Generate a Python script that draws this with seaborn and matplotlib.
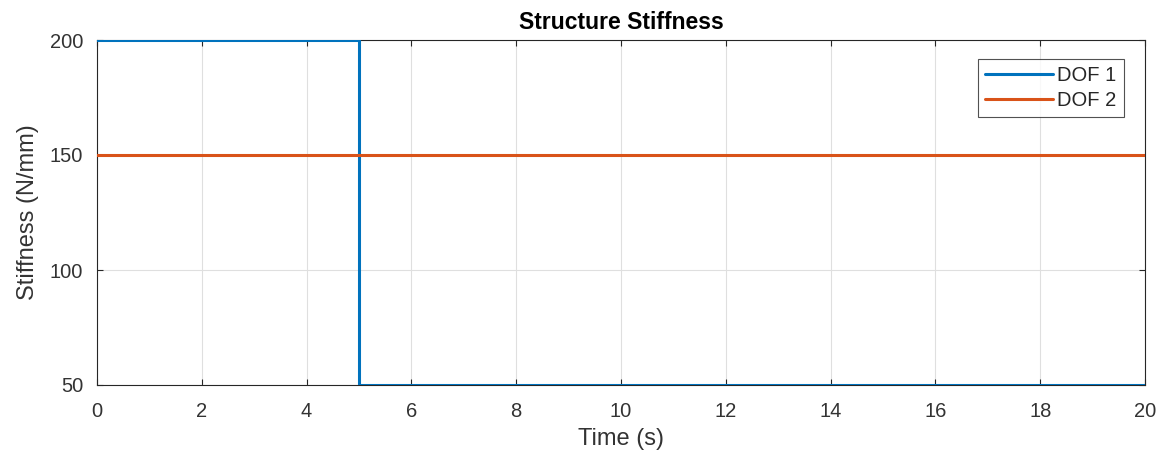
import matplotlib
matplotlib.use("Agg")
import matplotlib.pyplot as plt
import seaborn as sns
import pandas as pd

time_dof1 = [0, 5, 5, 20]
stiff_dof1 = [200, 200, 50, 50]
time_dof2 = [0, 20]
stiff_dof2 = [150, 150]
series_names = ["DOF 1", "DOF 2"]
x_ticks = [0, 2, 4, 6, 8, 10, 12, 14, 16, 18, 20]
y_ticks = [50, 100, 150, 200]

sns.set_theme(style="white")
plt.rcParams['font.family'] = ['Liberation Sans', 'DejaVu Sans']

df = pd.concat([
    pd.DataFrame({"Time": time_dof1, "Stiffness": stiff_dof1, "Series": series_names[0]}),
    pd.DataFrame({"Time": time_dof2, "Stiffness": stiff_dof2, "Series": series_names[1]}),
], ignore_index=True)

fig = plt.figure(figsize=(11.72, 4.58), dpi=100)
ax = fig.add_axes([97/1172, 1 - 385/458, (1145 - 97)/1172, (385 - 40)/458])

sns.lineplot(data=df, x="Time", y="Stiffness", hue="Series",
             palette=["#0072BD", "#D95319"], estimator=None, sort=False,
             linewidth=2.2, ax=ax, zorder=3)

ax.set_xlim(0, 20)
ax.set_ylim(50, 200)
ax.set_xticks(x_ticks)
ax.set_yticks(y_ticks)
ax.grid(True, color="#DFDFDF", linewidth=0.8)
ax.set_axisbelow(True)
for s in ax.spines.values():
    s.set_color("#262626")
    s.set_linewidth(0.8)
    s.set_visible(True)
ax.tick_params(axis="both", direction="in", length=4.5, width=0.8, color="#262626",
               labelsize=14.5, labelcolor="#333333", top=True, right=True, bottom=True, left=True)
ax.tick_params(axis="x", pad=12)
ax.tick_params(axis="y", pad=10)
ax.set_xlabel("Time (s)", fontsize=17, color="#333333", labelpad=5)
ax.set_ylabel("Stiffness (N/mm)", fontsize=17, color="#333333", labelpad=8)
ax.set_title("Structure Stiffness", fontsize=16.5, fontweight="bold", color="black", pad=8)

leg = ax.legend(loc="upper right", bbox_to_anchor=(0.9795, 0.945), fontsize=14.5,
                frameon=True, fancybox=False, edgecolor="#262626", handlelength=3.4,
                borderpad=0.35, labelspacing=0.3, handletextpad=0.2, borderaxespad=0)
leg.get_frame().set_linewidth(0.8)
for t in leg.get_texts():
    t.set_color("#262626")

fig.savefig("out.png", dpi=100)
